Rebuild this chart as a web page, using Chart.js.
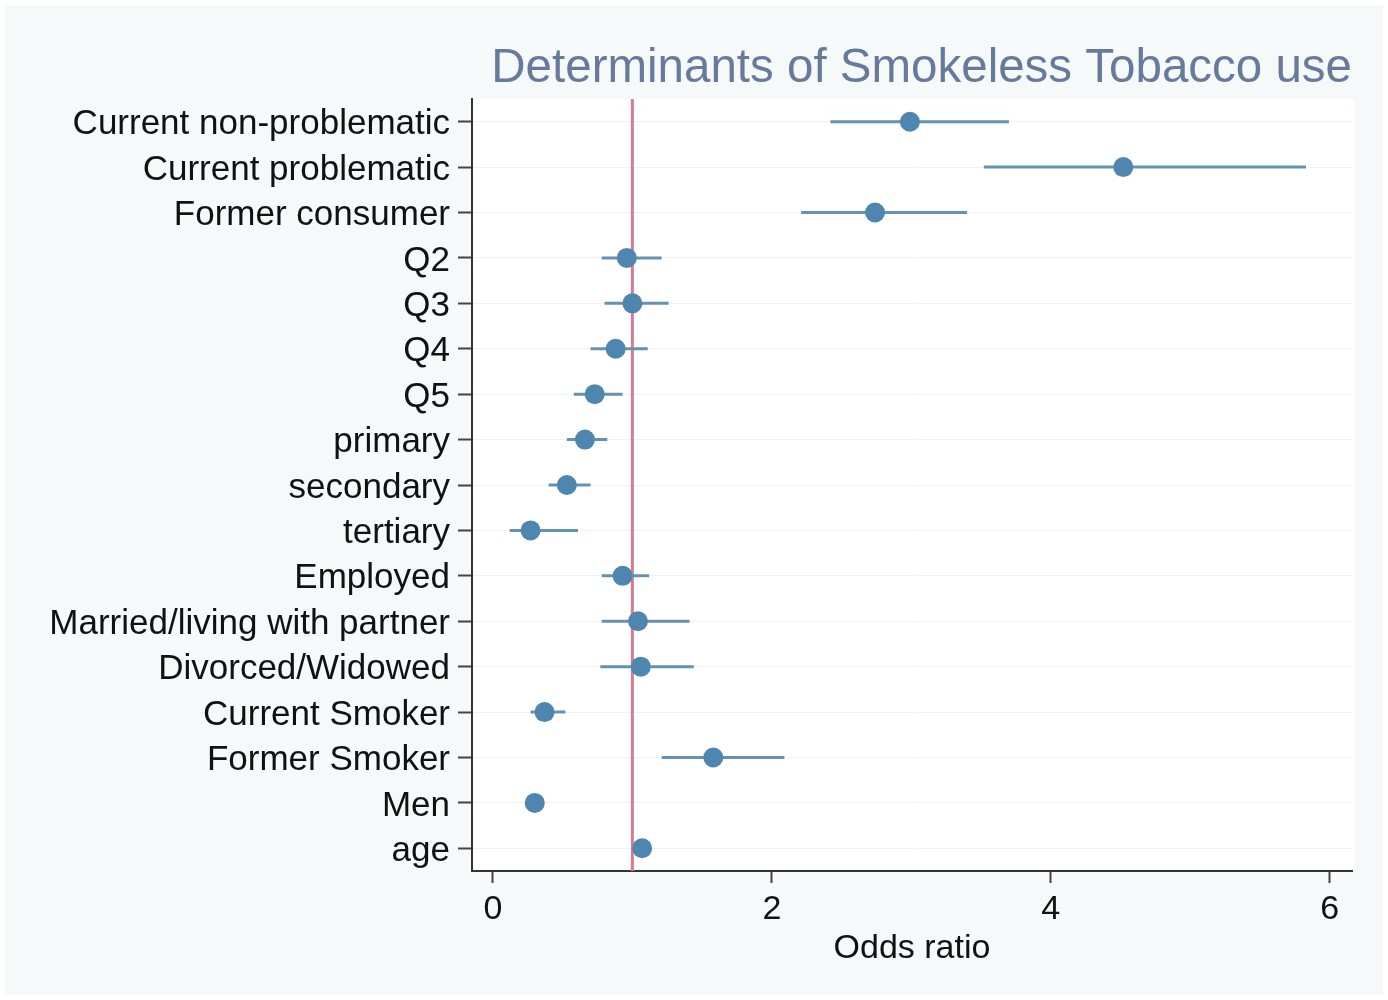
<!DOCTYPE html>
<html>
<head>
<meta charset="utf-8">
<script src="https://cdn.jsdelivr.net/npm/chart.js@4.4.1/dist/chart.umd.min.js"></script>
<style>
  html, body { margin: 0; padding: 0; background: #ffffff; }
  canvas { display: block; }
</style>
</head>
<body>
<canvas id="c" width="1388" height="1000"></canvas>
<script>
// ---- data ----
const categories = [
  "Current non-problematic", "Current problematic", "Former consumer",
  "Q2", "Q3", "Q4", "Q5",
  "primary", "secondary", "tertiary",
  "Employed", "Married/living with partner", "Divorced/Widowed",
  "Current Smoker", "Former Smoker", "Men", "age"
];
const oddsRatio = [2.99, 4.52, 2.74, 0.96, 1.00, 0.88, 0.73, 0.66, 0.53, 0.27, 0.93, 1.04, 1.06, 0.37, 1.58, 0.30, 1.07];
const ciLower   = [2.42, 3.52, 2.21, 0.78, 0.80, 0.70, 0.58, 0.53, 0.40, 0.12, 0.78, 0.78, 0.77, 0.27, 1.21, 0.28, 1.06];
const ciUpper   = [3.70, 5.83, 3.40, 1.21, 1.26, 1.11, 0.93, 0.82, 0.70, 0.61, 1.12, 1.41, 1.44, 0.52, 2.09, 0.32, 1.08];
const xTicks = [0, 2, 4, 6];
const referenceLine = 1;

const FONT = "'Liberation Sans', Arial, Helvetica, sans-serif";
const markerColor = '#4f86b0';
const ciColor = '#6592b0';

const ciDatasets = categories.map((c, i) => ({
  type: 'line',
  data: [{x: ciLower[i], y: i}, {x: ciUpper[i], y: i}],
  borderColor: ciColor,
  borderWidth: 3,
  pointRadius: 0,
  order: 2
}));

const bgPlugin = {
  id: 'bg',
  beforeDraw(chart) {
    const ctx = chart.ctx, a = chart.chartArea;
    ctx.save();
    ctx.fillStyle = '#ffffff';
    ctx.fillRect(0, 0, chart.width, chart.height);
    ctx.fillStyle = '#f5f9fa';
    ctx.fillRect(5, 5, chart.width - 10, chart.height - 10);
    ctx.fillStyle = '#ffffff';
    ctx.fillRect(a.left, a.top, a.right - a.left + 3, a.bottom - a.top);
    ctx.restore();
  }
};

new Chart(document.getElementById('c'), {
  type: 'scatter',
  data: {
    datasets: [
      {
        type: 'line',
        data: [{x: referenceLine, y: -0.5}, {x: referenceLine, y: categories.length - 0.5}],
        borderColor: '#d97b90',
        borderWidth: 3,
        pointRadius: 0,
        order: 3
      },
      ...ciDatasets,
      {
        type: 'scatter',
        data: oddsRatio.map((v, i) => ({x: v, y: i})),
        backgroundColor: markerColor,
        borderColor: markerColor,
        pointRadius: 10,
        borderWidth: 0,
        order: 1
      }
    ]
  },
  plugins: [bgPlugin],
  options: {
    responsive: false,
    devicePixelRatio: 1,
    animation: false,
    layout: { padding: { left: 0, right: 36, top: 0, bottom: 0 } },
    plugins: {
      legend: { display: false },
      tooltip: { enabled: false },
      title: {
        display: true,
        text: 'Determinants of Smokeless Tobacco use',
        align: 'end',
        color: '#687a9c',
        font: { family: FONT, size: 47.5, weight: 'normal' },
        padding: { top: 40, bottom: 2 }
      }
    },
    scales: {
      x: {
        type: 'linear',
        min: -0.15,
        max: 6.16,
        afterBuildTicks(scale) { scale.ticks = xTicks.map(v => ({value: v})); },
        afterFit(scale) { scale.height = 129; },
        grid: { drawOnChartArea: false, tickLength: 12, tickColor: '#444', tickWidth: 2 },
        border: { color: '#333', width: 2 },
        ticks: { color: '#111', font: { family: FONT, size: 34 }, padding: 6 },
        title: { display: true, text: 'Odds ratio', color: '#111', font: { family: FONT, size: 34 }, padding: { top: 0, bottom: 31 } }
      },
      y: {
        type: 'linear',
        reverse: true,
        min: -0.5,
        max: categories.length - 0.5,
        afterBuildTicks(scale) { scale.ticks = categories.map((c, i) => ({value: i})); },
        afterFit(scale) { scale.width = 472; },
        grid: { color: '#eef2f4', lineWidth: 1, tickLength: 14, tickColor: '#444', tickWidth: 2 },
        border: { color: '#333', width: 2 },
        ticks: {
          color: '#111',
          font: { family: FONT, size: 35 },
          padding: 8,
          labelOffset: 3,
          autoSkip: false,
          callback: (v) => categories[v]
        }
      }
    }
  }
});
</script>
</body>
</html>
